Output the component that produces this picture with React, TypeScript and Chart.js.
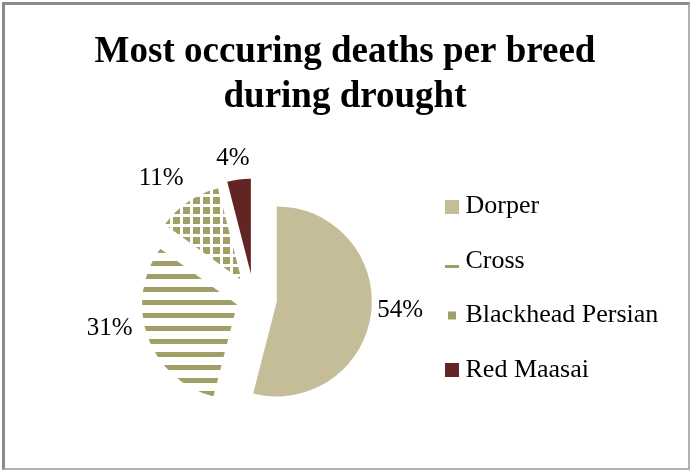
import React, { useEffect, useRef } from 'react';
import { Chart, registerables } from 'chart.js';

Chart.register(...registerables);

// ---- data ----
const breeds = ['Dorper', 'Cross', 'Blackhead Persian', 'Red Maasai'];
const deathShares = [54, 31, 11, 4];
const titleLines = ['Most occuring deaths per breed', 'during drought'];

// ---- style ----
const TAN = '#C4BD97';
const OLIVE = '#A0A066';
const MAROON = '#632523';
const SERIF = '"Liberation Serif", "Times New Roman", serif';

// how far each slice is pulled away from the pie centre (px)
const explode = [23, 18, 22, 25];
// nudge of each percentage label from the outer edge point of its slice (px)
const labelShift: [number, number][] = [
  [29, -3],
  [-38, -8],
  [-27, -23],
  [-6, -21],
];

function makeTile(w: number, h: number, paint: (g: CanvasRenderingContext2D) => void) {
  const c = document.createElement('canvas');
  c.width = w;
  c.height = h;
  const g = c.getContext('2d')!;
  paint(g);
  return c;
}

// horizontal stripes
const stripeTile = () =>
  makeTile(8, 13, (g) => {
    g.fillStyle = '#fff';
    g.fillRect(0, 0, 8, 13);
    g.fillStyle = OLIVE;
    g.fillRect(0, 1, 8, 5);
  });

// olive squares separated by white grid lines
const gridTile = () =>
  makeTile(10, 10, (g) => {
    g.fillStyle = OLIVE;
    g.fillRect(0, 0, 10, 10);
    g.fillStyle = '#fff';
    g.fillRect(0, 0, 3, 10);
    g.fillRect(0, 4, 10, 3);
  });

// legend swatches
const legendMarkers = () => [
  makeTile(14, 14, (g) => {
    g.fillStyle = TAN;
    g.fillRect(0, 0, 14, 14);
  }),
  makeTile(14, 14, (g) => {
    g.fillStyle = OLIVE;
    g.fillRect(0, 11, 14, 3);
  }),
  makeTile(14, 14, (g) => {
    g.fillStyle = OLIVE;
    g.fillRect(3, 3, 8, 8);
  }),
  makeTile(14, 14, (g) => {
    g.fillStyle = MAROON;
    g.fillRect(0, 0, 14, 14);
  }),
];

// two-line centred heading across the whole canvas
const headingPlugin = {
  id: 'heading',
  afterDraw(chart: any) {
    const { ctx, width } = chart;
    ctx.save();
    ctx.font = `bold 37px ${SERIF}`;
    ctx.fillStyle = '#000';
    ctx.textAlign = 'center';
    ctx.textBaseline = 'alphabetic';
    titleLines.forEach((line, i) => ctx.fillText(line, width / 2, 62 + i * 45));
    ctx.restore();
  },
};

// pull every slice outwards along its bisector
const explodePlugin = {
  id: 'explodeSlices',
  afterDatasetsUpdate(chart: any) {
    const meta = chart.getDatasetMeta(0);
    meta.data.forEach((arc: any, i: number) => {
      const mid = (arc.startAngle + arc.endAngle) / 2;
      const d = explode[i] ?? 0;
      arc.x += Math.cos(mid) * d;
      arc.y += Math.sin(mid) * d;
    });
  },
};

// percentage labels outside each slice
const labelPlugin = {
  id: 'sliceLabels',
  afterDatasetsDraw(chart: any) {
    const { ctx } = chart;
    const meta = chart.getDatasetMeta(0);
    ctx.save();
    ctx.font = `25px ${SERIF}`;
    ctx.fillStyle = '#000';
    ctx.textAlign = 'center';
    ctx.textBaseline = 'middle';
    meta.data.forEach((arc: any, i: number) => {
      const mid = (arc.startAngle + arc.endAngle) / 2;
      const px = arc.x + Math.cos(mid) * arc.outerRadius;
      const py = arc.y + Math.sin(mid) * arc.outerRadius;
      const [sx, sy] = labelShift[i];
      ctx.fillText(`${deathShares[i]}%`, px + sx, py + sy);
    });
    ctx.restore();
  },
};

export default function App() {
  const canvasRef = useRef<HTMLCanvasElement | null>(null);

  useEffect(() => {
    const canvas = canvasRef.current;
    if (!canvas) return;
    const ctx = canvas.getContext('2d')!;
    const stripes = ctx.createPattern(stripeTile(), 'repeat');
    const grid = ctx.createPattern(gridTile(), 'repeat');
    const markers = legendMarkers();
    const fills = [TAN, stripes, grid, MAROON];

    const chart = new Chart(canvas, {
      type: 'pie',
      data: {
        labels: breeds,
        datasets: [
          {
            data: deathShares,
            backgroundColor: fills as any,
            borderWidth: 0,
            radius: 95,
          } as any,
        ],
      },
      options: {
        responsive: false,
        animation: false,
        events: [],
        layout: { padding: { left: 85, right: 27, top: 165, bottom: 39 } },
        plugins: {
          title: { display: false },
          legend: {
            display: true,
            position: 'right',
            align: 'start',
            fullSize: false,
            maxWidth: 240,
            labels: {
              usePointStyle: true,
              pointStyleWidth: 1,
              padding: 28.5,
              color: '#000',
              font: { family: SERIF, size: 26 },
              generateLabels: () =>
                breeds.map((b, i) => ({
                  text: b,
                  pointStyle: markers[i] as any,
                  fillStyle: 'transparent',
                  strokeStyle: 'transparent',
                  lineWidth: 0,
                  hidden: false,
                  index: i,
                  datasetIndex: 0,
                })),
            },
          },
          tooltip: { enabled: false },
        },
      } as any,
      plugins: [explodePlugin, labelPlugin, headingPlugin],
    });

    return () => chart.destroy();
  }, []);

  return (
    <div style={{ position: 'absolute', left: 0, top: 0, width: 690, height: 471, background: '#fff' }}>
      <div
        style={{
          position: 'absolute',
          left: 2,
          top: 2,
          width: 683,
          height: 463,
          borderLeft: '3px solid #8a8a8a',
          borderTop: '3px solid #8a8a8a',
          borderRight: '2px solid #b0b0b0',
          borderBottom: '2px solid #b0b0b0',
        }}
      />
      <canvas
        ref={canvasRef}
        width={690}
        height={471}
        style={{ position: 'absolute', left: 0, top: 0 }}
      />
    </div>
  );
}
